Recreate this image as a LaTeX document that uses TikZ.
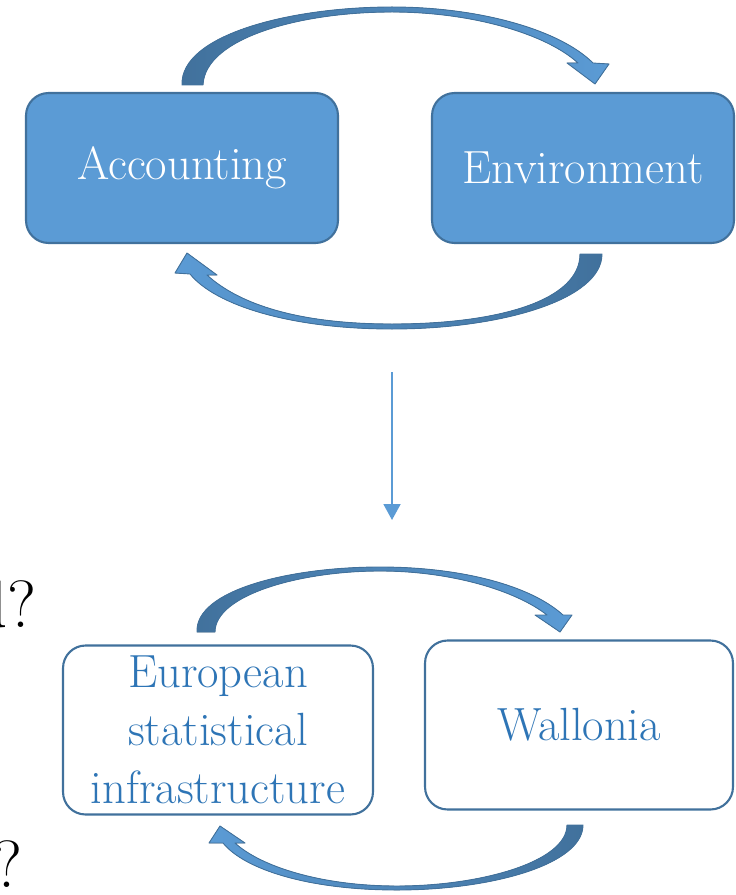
\documentclass[tikz,border=0pt]{standalone}
\usepackage{tikz}
\usepackage{xcolor}
\usetikzlibrary{arrows.meta}
\definecolor{boxblue}{HTML}{5B9BD5}
\definecolor{edgeblue}{HTML}{41719C}
\definecolor{textblue}{HTML}{2E75B6}
\begin{document}
\begin{tikzpicture}[x=0.02cm,y=-0.02cm,
			fullbox/.style={draw=edgeblue,line width=1.2pt,fill=boxblue,rounded corners=0.45cm,text=white,align=center,font=\fontsize{26.5}{33}\selectfont},
			hollowbox/.style={draw=edgeblue,line width=1.2pt,fill=white,rounded corners=0.45cm,text=textblue,align=center,font=\fontsize{26.5}{33}\selectfont},
			bendarrow/.style={draw=edgeblue,line width=0.5pt,line join=round},
			flowarrow/.style={draw=boxblue,line width=1.1pt,-{Triangle[width=0.34cm,length=0.32cm]}},
			cuttext/.style={inner sep=0pt,anchor=base east,font=\fontsize{38}{40}\selectfont}]
			\useasboundingbox (0,0) rectangle (735,895);
			\node[fullbox,minimum width=6.24cm,minimum height=3cm] (accounting) at (182,168) {Accounting};
			\node[fullbox,minimum width=6.04cm,minimum height=3cm] (environment) at (583,168) {Environment};
			\node[hollowbox,minimum width=6.2cm,minimum height=3.38cm] (european) at (218,730) {European\\statistical\\infrastructure};
			\node[hollowbox,minimum width=6.16cm,minimum height=3.38cm] (wallonia) at (579,725) {Wallonia};
			\node[cuttext] (askone) at (37,627) {d?};
			\node[cuttext] (asktwo) at (23,887) {?};
			\coordinate (flowtop) at (392,372);
			\coordinate (flowbot) at (392,520);
			\draw[flowarrow] (flowtop) -- (flowbot);
			\filldraw[bendarrow,left color=edgeblue,right color=boxblue]
				(182,85) .. controls (180,35) and (290,7) .. (392,7) .. controls (480,7) and (560,30) .. (593,63)
				-- (609,64) -- (595,84) -- (567,63) -- (578,63)
				.. controls (545,33) and (470,12) .. (392,12) .. controls (300,12) and (205,38) .. (203,85) -- cycle;
			\filldraw[bendarrow,left color=boxblue,right color=edgeblue]
				(602,254) .. controls (602,300) and (500,329) .. (392,329) .. controls (290,329) and (215,305) .. (190,274)
				-- (175,273) -- (187,253) -- (217,275) -- (207,275)
				.. controls (240,305) and (300,324) .. (392,324) .. controls (500,324) and (580,300) .. (580,254) -- cycle;
			\filldraw[bendarrow,left color=edgeblue,right color=boxblue]
				(197,632) .. controls (195,590) and (290,567) .. (380,567) .. controls (460,567) and (530,585) .. (563,615)
				-- (572,615) -- (560,632) -- (535,615) -- (547,615)
				.. controls (515,590) and (450,571) .. (380,571) .. controls (300,571) and (215,595) .. (215,632) -- cycle;
			\filldraw[bendarrow,left color=boxblue,right color=edgeblue]
				(583,825) .. controls (583,865) and (490,890) .. (397,890) .. controls (310,890) and (245,870) .. (223,843)
				-- (209,843) -- (220,826) -- (245,843) -- (235,843)
				.. controls (260,866) and (320,886) .. (397,886) .. controls (480,886) and (567,862) .. (567,825) -- cycle;
		\end{tikzpicture}
\end{document}
